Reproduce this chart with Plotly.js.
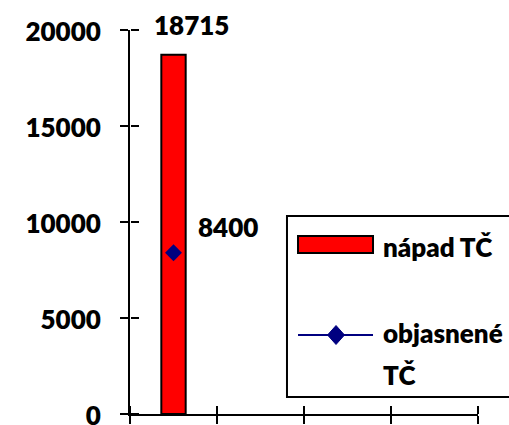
<!DOCTYPE html>
<html>
<head>
<meta charset="utf-8">
<script src="https://cdn.plot.ly/plotly-3.0.1.min.js"></script>
<style>html,body{margin:0;padding:0;background:#fff;}#chart{width:509px;height:425px;}</style>
</head>
<body>
<div id="chart"></div>
<script>
// ---- data ----
const categorySlots = [0, 1, 2, 3];          // four category positions on the x axis (no labels)
const barX = [0];
const napadTC = [18715];                      // "nápad TČ" (bar)
const objasneneTC = [8400];                   // "objasnené TČ" (marker)
const seriesNames = ['nápad TČ', 'objasnené', 'TČ'];
const yTicks = [0, 5000, 10000, 15000, 20000];
const yTickLabels = ['0', '5000', '10000', '15000', '20000'];

const FONT = 'Lato, "Open Sans", "DejaVu Sans", sans-serif';
const xRange = [categorySlots[0] - 0.5, categorySlots[categorySlots.length - 1] + 0.5];
const xBoundaries = categorySlots.map(c => c - 0.5).concat([categorySlots[categorySlots.length - 1] + 0.5]);
const yRange = [yTicks[0], yTicks[yTicks.length - 1]];

const traces = [
  {
    type: 'bar', x: barX, y: napadTC, width: 0.28,
    marker: {color: '#FF0000', line: {color: '#000000', width: 2}},
    hoverinfo: 'skip', showlegend: false, xaxis: 'x', yaxis: 'y'
  },
  {
    type: 'scatter', mode: 'markers', x: barX, y: objasneneTC,
    marker: {symbol: 'diamond', color: '#000080', size: 13, line: {width: 0}},
    hoverinfo: 'skip', showlegend: false, xaxis: 'x2', yaxis: 'y2'
  }
];

const lab = {family: FONT, size: 26, color: '#000', weight: 800};
const legFont = {family: FONT, size: 26, color: '#000', weight: 800};

const annotations = [
  {xref: 'x', yref: 'y', x: barX[0], y: napadTC[0], text: String(napadTC[0]),
   showarrow: false, xshift: 18, yshift: 30, font: lab},
  {xref: 'x', yref: 'y', x: barX[0], y: objasneneTC[0], text: String(objasneneTC[0]),
   showarrow: false, xshift: 54, yshift: 26, font: lab},
  {xref: 'paper', yref: 'paper', x: 0.721, y: 0.4349, xanchor: 'left', yanchor: 'middle',
   text: seriesNames[0], showarrow: false, font: legFont},
  {xref: 'paper', yref: 'paper', x: 0.721, y: 0.2109, xanchor: 'left', yanchor: 'middle',
   text: seriesNames[1], showarrow: false, font: legFont},
  {xref: 'paper', yref: 'paper', x: 0.721, y: 0.1016, xanchor: 'left', yanchor: 'middle',
   text: seriesNames[2], showarrow: false, font: legFont}
];

const shapes = [
  // legend frame
  {type: 'rect', xref: 'paper', yref: 'paper', x0: 0.4511, x1: 1.15, y0: 0.0443, y1: 0.5156,
   line: {color: '#000', width: 2}, fillcolor: 'rgba(0,0,0,0)', layer: 'above'},
  // legend swatch for bar
  {type: 'rect', xref: 'paper', yref: 'paper', x0: 0.4828, x1: 0.6983, y0: 0.4193, y1: 0.4635,
   line: {color: '#000', width: 2}, fillcolor: '#FF0000', layer: 'above'},
  // legend line for marker series
  {type: 'line', xref: 'paper', yref: 'paper', x0: 0.4828, x1: 0.6983, y0: 0.2057, y1: 0.2057,
   line: {color: '#000080', width: 2}, layer: 'above'},
  {type: 'path', xref: 'paper', yref: 'paper',
   path: 'M 0.5676,0.2057 L 0.592,0.2304 L 0.6164,0.2057 L 0.592,0.181 Z',
   fillcolor: '#000080', line: {color: '#000080', width: 1}, layer: 'above'}
];

const baseX = {
  range: xRange, type: 'linear', tickmode: 'array', tickvals: xBoundaries,
  showticklabels: false, showgrid: false, zeroline: false, ticklen: 8, tickwidth: 2, tickcolor: '#000',
  fixedrange: true
};
const baseY = {
  range: yRange, type: 'linear', tickmode: 'array', tickvals: yTicks, ticktext: yTickLabels,
  showgrid: false, zeroline: false, ticklen: 8, tickwidth: 2, tickcolor: '#000', fixedrange: true
};

const layout = {
  width: 509, height: 425,
  margin: {l: 130, r: 31, t: 30, b: 11, autoexpand: false},
  paper_bgcolor: '#fff', plot_bgcolor: '#fff',
  showlegend: false,
  xaxis: Object.assign({}, baseX, {ticks: 'outside', showline: true, linecolor: '#000', linewidth: 2}),
  yaxis: Object.assign({}, baseY, {ticks: 'outside', showline: true, linecolor: '#000', linewidth: 2,
    tickfont: lab, ticklabelstandoff: 14, ticklabelshift: 2, ticklabeloverflow: 'allow'}),
  // duplicate axes on the same lines, ticks pointing into the plot (crossing tick marks)
  xaxis2: Object.assign({}, baseX, {ticks: 'outside', overlaying: 'x', side: 'top', anchor: 'free', position: 0,
    showline: false}),
  yaxis2: Object.assign({}, baseY, {ticks: 'outside', overlaying: 'y', side: 'right', anchor: 'free', position: 0,
    showline: false, showticklabels: false}),
  annotations: annotations,
  shapes: shapes
};

Plotly.newPlot('chart', traces, layout, {staticPlot: true, displayModeBar: false});
</script>
</body>
</html>
